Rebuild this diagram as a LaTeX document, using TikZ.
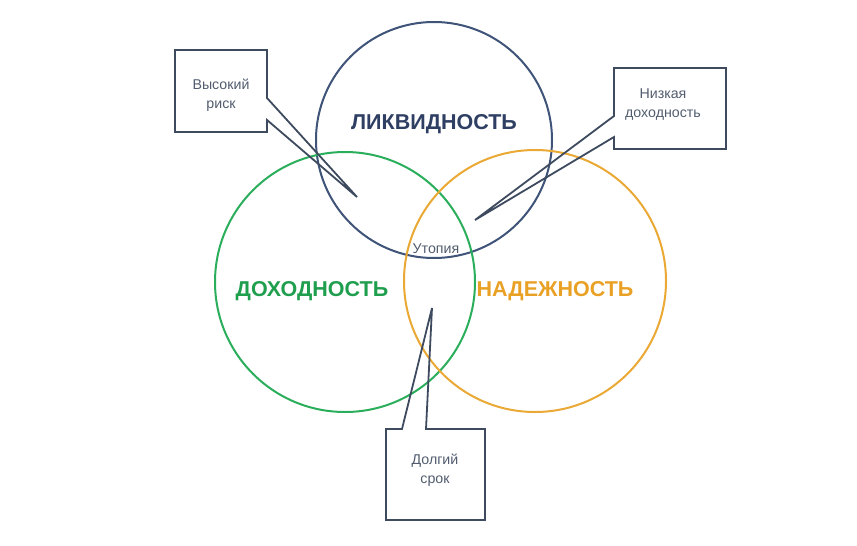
\documentclass[tikz,border=0pt]{standalone}
\usepackage{fontspec}
\setmainfont{Liberation Sans}
\usepackage{xcolor}
\usepackage{tikz}
\usetikzlibrary{positioning}

\definecolor{ringblue}{HTML}{3F5478}
\definecolor{ringgreen}{HTML}{2BAE5C}
\definecolor{ringorange}{HTML}{EAA834}
\definecolor{txtblue}{HTML}{2E3F63}
\definecolor{txtgreen}{HTML}{1F9E4E}
\definecolor{txtorange}{HTML}{E9A125}
\definecolor{boxline}{HTML}{3E4A5E}

\begin{document}
\begin{tikzpicture}[
    x=1pt, y=-1pt,
    ring/.style={circle, draw, line width=2pt, inner sep=0pt},
    title/.style={font=\fontsize{21.5}{24}\selectfont\bfseries},
    note/.style={font=\fontsize{14.2}{19}\selectfont, text=boxline!90, align=center},
    callout/.style={draw=boxline, line width=1.8pt, line join=miter},
]
    \useasboundingbox (0,0) rectangle (857,546);
    % circles
    \node[ring, draw=ringblue, minimum size=236pt] (L) at (434,140) {};
    \node[ring, draw=ringgreen, minimum size=260pt] (D) at (345,282) {};
    \node[ring, draw=ringorange, minimum size=262pt] (N) at (535,281) {};
    \node[title, text=txtblue] (Lt) at (434,124) {ЛИКВИДНОСТЬ};
    \node[title, text=txtgreen] (Dt) at (312,291) {ДОХОДНОСТЬ};
    \node[title, text=txtorange] (Nt) at (555,291) {НАДЕЖНОСТЬ};
    \node[note] (U) at (436,249) {Утопия};
    % callouts
    \coordinate (riskTip) at (357,197);
    \coordinate (lowTip) at (475,220);
    \coordinate (longTip) at (432,308);
    \node[note] (risk) at (221,95) {Высокий\\риск};
    \node[note] (low) at (663,105) {Низкая\\доходность};
    \node[note] (long) at (435,470) {Долгий\\срок};
    \draw[callout] (175,50) -- (267,50) -- (267,98) -- (riskTip) -- (267,120)
        -- (267,132) -- (175,132) -- cycle;
    \draw[callout] (614,68) -- (726,68) -- (726,149) -- (614,149) -- (614,137)
        -- (lowTip) -- (614,116) -- cycle;
    \draw[callout] (386,429) -- (402,429) -- (longTip) -- (426,429) -- (485,429)
        -- (485,520) -- (386,520) -- cycle;
\end{tikzpicture}
\end{document}
